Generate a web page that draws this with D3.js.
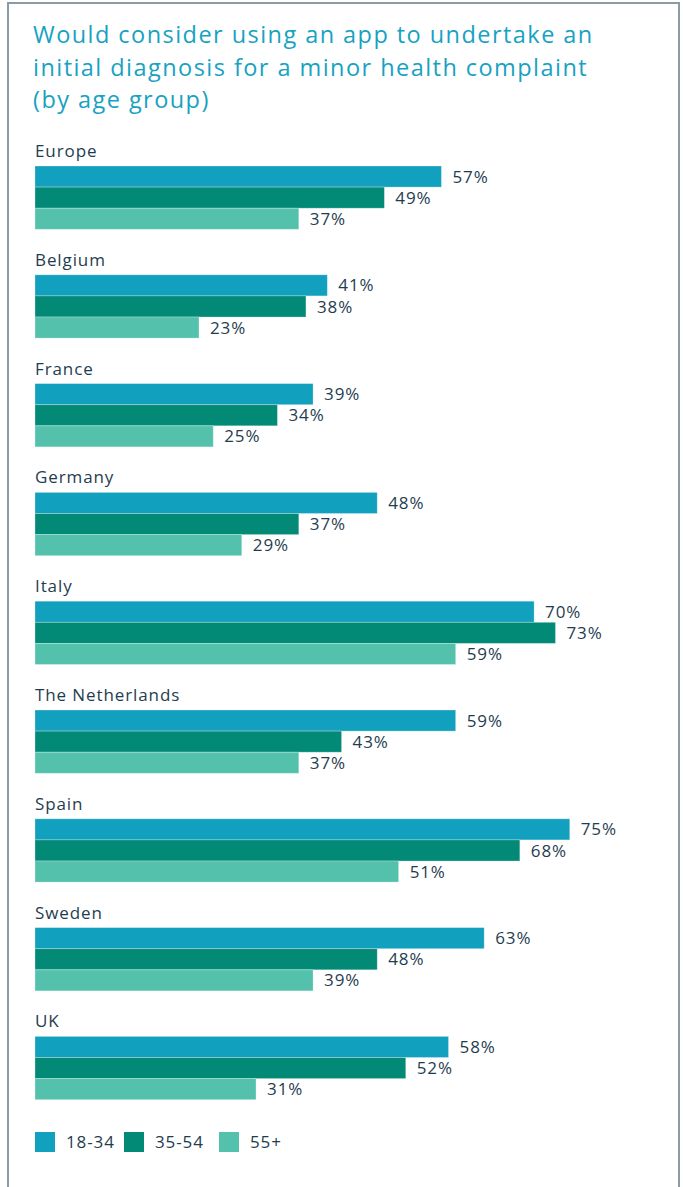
<!DOCTYPE html>
<html>
<head>
<meta charset="utf-8">
<script src="https://cdn.jsdelivr.net/npm/d3@7"></script>
<style>
  html, body { margin: 0; padding: 0; background: #ffffff; }
  svg { display: block; }
  text { font-family: "Open Sans", "DejaVu Sans", sans-serif; }
</style>
</head>
<body>
<svg id="chart" width="683" height="1187"></svg>
<script>
// Share of respondents who would consider using an app for an initial diagnosis
const titleLines = [
  "Would consider using an app to undertake an",
  "initial diagnosis for a minor health complaint",
  "(by age group)"
];
const countries = ["Europe", "Belgium", "France", "Germany", "Italy", "The Netherlands", "Spain", "Sweden", "UK"];
const ageGroups = ["18-34", "35-54", "55+"];
const age18to34 = [57, 41, 39, 48, 70, 59, 75, 63, 58];
const age35to54 = [49, 38, 34, 37, 73, 43, 68, 48, 52];
const age55plus = [37, 23, 25, 29, 59, 37, 51, 39, 31];
const groupColors = ["#12a0bf", "#028a76", "#54c1ad"];

const seriesValues = [age18to34, age35to54, age55plus];
const rows = countries.map((c, i) => ({
  country: c,
  values: ageGroups.map((g, k) => ({ group: g, value: seriesValues[k][i] }))
}));

const svg = d3.select("#chart");
const textColor = "#1f3d4f";
const labelSize = 17;
const labelSpacing = 0.9;

// Frame around the panel
svg.append("path")
  .attr("d", "M8,1187 V3 H679 V1187")
  .attr("fill", "none")
  .attr("stroke", "#8c9ca6")
  .attr("stroke-width", 2);

// Title
svg.append("g").selectAll("text")
  .data(titleLines)
  .join("text")
  .attr("x", 33)
  .attr("y", (d, i) => 43 + i * 32.5)
  .attr("fill", "#17a2c2")
  .attr("font-size", 23.5)
  .attr("letter-spacing", 1.45)
  .text(d => d);

// Scales
const x = d3.scaleLinear().domain([0, 100]).range([35, 748]);
const yGroup = d3.scaleBand().domain(countries).range([166, 166 + countries.length * 108.8]).paddingInner(0).paddingOuter(0);
const yBar = d3.scaleBand().domain(ageGroups).range([0, 63.3]).padding(0);
const color = d3.scaleOrdinal().domain(ageGroups).range(groupColors);

const groups = svg.append("g").selectAll("g.country")
  .data(rows)
  .join("g")
  .attr("class", "country")
  .attr("transform", d => `translate(0,${yGroup(d.country)})`);

groups.append("text")
  .attr("x", 35)
  .attr("y", -9)
  .attr("fill", textColor)
  .attr("font-size", labelSize)
  .attr("letter-spacing", labelSpacing)
  .text(d => d.country);

groups.selectAll("rect")
  .data(d => d.values)
  .join("rect")
  .attr("x", x(0))
  .attr("y", d => yBar(d.group))
  .attr("width", d => x(d.value) - x(0))
  .attr("height", yBar.bandwidth())
  .attr("fill", d => color(d.group))
  .attr("stroke", "#ffffff")
  .attr("stroke-opacity", 0.35)
  .attr("stroke-width", 0.8);

groups.selectAll("text.value")
  .data(d => d.values)
  .join("text")
  .attr("class", "value")
  .attr("x", d => x(d.value) + 11)
  .attr("y", d => yBar(d.group) + yBar.bandwidth() / 2)
  .attr("dy", "0.36em")
  .attr("fill", textColor)
  .attr("font-size", labelSize)
  .attr("letter-spacing", labelSpacing)
  .text(d => d.value + "%");

// Legend
const legendX = [35, 124, 219];
const legend = svg.append("g").selectAll("g")
  .data(ageGroups)
  .join("g")
  .attr("transform", (d, i) => `translate(${legendX[i]},1132)`);
legend.append("rect")
  .attr("width", 20)
  .attr("height", 20)
  .attr("fill", d => color(d));
legend.append("text")
  .attr("x", 31)
  .attr("y", 16)
  .attr("fill", textColor)
  .attr("font-size", labelSize)
  .attr("letter-spacing", labelSpacing)
  .text(d => d);
</script>
</body>
</html>
